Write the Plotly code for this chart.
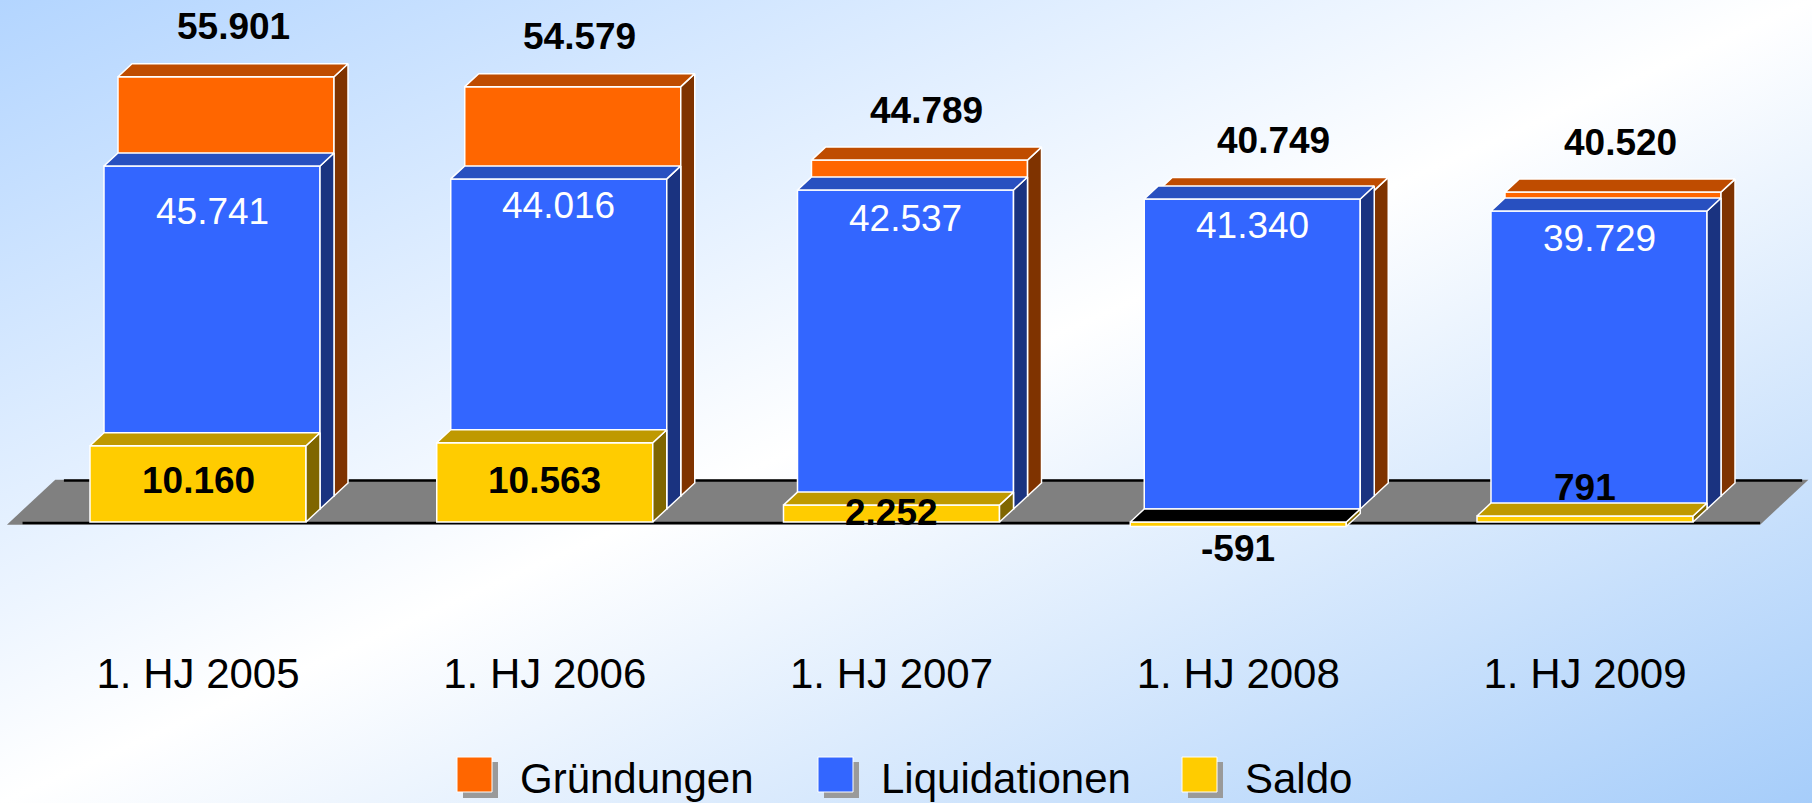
import base64
import plotly.graph_objects as go

# ---------------- data ----------------
categories = ["1. HJ 2005", "1. HJ 2006", "1. HJ 2007", "1. HJ 2008", "1. HJ 2009"]
gruendungen = [55901, 54579, 44789, 40749, 40520]
liquidationen = [45741, 44016, 42537, 41340, 39729]
saldo = [10160, 10563, 2252, -591, 791]
series_names = ["Gründungen", "Liquidationen", "Saldo"]

# ---------------- geometry / style ----------------
W, H = 1812, 803
PLOT_BOTTOM = 645          # px, bottom of plotting area
ZERO_PX = 522              # px of value 0 (front row)
CAT0_PX = 198              # px of first category centre
PX_PER_CAT = 346.75
PX_PER_VAL = 0.0075
BAR_W = 0.623              # bar width in category units
DX = 14 / PX_PER_CAT       # depth step (x units)
DY = 13 / PX_PER_VAL       # depth step (value units)
FLOOR_DEPTH = 3.45
FONT = "Arial, Liberation Sans, sans-serif"

x_range = [(0 - CAT0_PX) / PX_PER_CAT, (W - CAT0_PX) / PX_PER_CAT]
y_range = [(ZERO_PX - PLOT_BOTTOM) / PX_PER_VAL, ZERO_PX / PX_PER_VAL]

series = [  # back to front
    dict(name=series_names[0], values=gruendungen, depth=2, axis=2,
         front="#FF6600", top="#BF4C00", side="#7F3300"),
    dict(name=series_names[1], values=liquidationen, depth=1, axis=3,
         front="#3366FF", top="#2850C0", side="#1A3380"),
    dict(name=series_names[2], values=saldo, depth=0, axis=4,
         front="#FFCC00", top="#BF9900", side="#7F6600"),
]

fmt = lambda v: f"{v:,}".replace(",", ".")
EDGE = dict(color="white", width=1.5)

fig = go.Figure()

# ---- floor (main subplot) ----
fx0, fx1 = -0.551, 4.505
fdx, fdy = FLOOR_DEPTH * DX, FLOOR_DEPTH * DY
fy = -350
fig.add_trace(go.Scatter(
    x=[fx0, fx1, fx1 + fdx, fx0 + fdx, fx0],
    y=[fy, fy, fy + fdy, fy + fdy, fy],
    fill="toself", fillcolor="#808080", mode="lines",
    line=dict(width=0, color="#808080"), hoverinfo="skip", showlegend=False))
fig.add_trace(go.Scatter(
    x=[fx0 + 0.045, fx1], y=[-120, -120], mode="lines",
    line=dict(color="black", width=2.5), hoverinfo="skip", showlegend=False))
fig.add_trace(go.Scatter(
    x=[fx0 + fdx + 0.025, fx1 + fdx - 0.018], y=[fy + fdy - 80, fy + fdy - 80], mode="lines",
    line=dict(color="black", width=2.5), hoverinfo="skip", showlegend=False))

# ---- 3D bars ----
for s in series:
    k = s["depth"]
    xa, ya = f"x{s['axis']}", f"y{s['axis']}"
    n = len(s["values"])
    fig.add_trace(go.Bar(
        x=list(range(n)), y=s["values"], base=[k * DY] * n,
        width=BAR_W, offset=-BAR_W / 2 + k * DX,
        marker=dict(color=s["front"], line=EDGE),
        name=s["name"], xaxis=xa, yaxis=ya, showlegend=False, hoverinfo="skip"))
    for i, v in enumerate(s["values"]):
        xl = i - BAR_W / 2 + k * DX
        xr = xl + BAR_W
        t = k * DY + max(v, 0)
        b = k * DY + min(v, 0)
        # side face
        fig.add_trace(go.Scatter(
            x=[xr, xr + DX, xr + DX, xr, xr], y=[b, b + DY, t + DY, t, b],
            fill="toself", fillcolor=s["side"], mode="lines", line=EDGE,
            xaxis=xa, yaxis=ya, hoverinfo="skip", showlegend=False))
        # top face
        fig.add_trace(go.Scatter(
            x=[xl, xr, xr + DX, xl + DX, xl], y=[t, t, t + DY, t + DY, t],
            fill="toself", fillcolor=(s["top"] if v >= 0 else "black"),
            mode="lines", line=EDGE,
            xaxis=xa, yaxis=ya, hoverinfo="skip", showlegend=False))

# ---- value labels ----
ann = []
for i, v in enumerate(gruendungen):
    ann.append(dict(x=i + 2.5 * DX, y=v + 3 * DY, xref="x", yref="y", text=fmt(v),
                    showarrow=False, yshift=37,
                    font=dict(family=FONT, size=37, color="black", weight="bold")))
liq_shift = [-46, -27, -29, -27, -27]
for i, v in enumerate(liquidationen):
    ann.append(dict(x=i + DX, y=v + DY, xref="x", yref="y", text=fmt(v),
                    showarrow=False, yshift=liq_shift[i],
                    font=dict(family=FONT, size=37, color="white")))
sal_shift = [3, 2, 1, -24, 32]
for i, v in enumerate(saldo):
    ann.append(dict(x=i, y=v / 2, xref="x", yref="y", text=fmt(v),
                    showarrow=False, yshift=sal_shift[i],
                    font=dict(family=FONT, size=37, color="black", weight="bold")))

# ---- manual legend ----
def px_x(p):
    return p / W

def px_y(p):
    return (PLOT_BOTTOM - p) / PLOT_BOTTOM

shapes = []
leg_x = [457, 818, 1182]
leg_colors = [s["front"] for s in series]
for lx, name, col in zip(leg_x, series_names, leg_colors):
    shapes.append(dict(type="rect", xref="paper", yref="paper",
                       x0=px_x(lx + 6), x1=px_x(lx + 41), y0=px_y(762), y1=px_y(798),
                       fillcolor="#9a9a9a", line=dict(width=0), layer="above"))
    shapes.append(dict(type="rect", xref="paper", yref="paper",
                       x0=px_x(lx), x1=px_x(lx + 35), y0=px_y(757), y1=px_y(792),
                       fillcolor=col, line=dict(color="white", width=1), layer="above"))
    ann.append(dict(x=px_x(lx + 61), y=px_y(778), xref="paper", yref="paper",
                    text=name, showarrow=False, xanchor="left", yanchor="middle",
                    font=dict(family=FONT, size=42, color="black")))

# ---- background gradient ----
svg = (f'<svg xmlns="http://www.w3.org/2000/svg" width="{W}" height="{H}" '
       f'viewBox="0 0 {W} {H}" preserveAspectRatio="none"><defs>'
       '<linearGradient id="g" x1="0" y1="0" x2="1" y2="1">'
       '<stop offset="0" stop-color="#b3d5ff"/>'
       '<stop offset="0.5" stop-color="#ffffff"/>'
       '<stop offset="1" stop-color="#a6cdfa"/>'
       '</linearGradient></defs>'
       f'<rect width="{W}" height="{H}" fill="url(#g)"/></svg>')
bg_src = "data:image/svg+xml;base64," + base64.b64encode(svg.encode()).decode()

hidden = dict(visible=False, showgrid=False, zeroline=False, fixedrange=True)
layout = dict(
    width=W, height=H, autosize=False,
    margin=dict(l=0, r=0, t=0, b=H - PLOT_BOTTOM, pad=0),
    paper_bgcolor="white", plot_bgcolor="rgba(0,0,0,0)",
    showlegend=False, barmode="overlay",
    xaxis=dict(range=x_range, tickvals=list(range(len(categories))), ticktext=categories,
               showgrid=False, zeroline=False, showline=False, ticks="",
               tickfont=dict(family=FONT, size=42, color="black"), fixedrange=True),
    yaxis=dict(range=y_range, **hidden),
    annotations=ann, shapes=shapes,
    images=[dict(source=bg_src, xref="paper", yref="paper", x=0, y=1,
                 sizex=1, sizey=H / PLOT_BOTTOM, sizing="stretch",
                 xanchor="left", yanchor="top", layer="below")],
)
for a in (2, 3, 4):
    layout[f"xaxis{a}"] = dict(range=x_range, overlaying="x", anchor=f"y{a}", **hidden)
    layout[f"yaxis{a}"] = dict(range=y_range, overlaying="y", anchor=f"x{a}", **hidden)
fig.update_layout(**layout)

fig.write_html("out.html", include_plotlyjs=True,
               config=dict(displayModeBar=False, staticPlot=True),
               post_script="document.body.style.margin='0';document.body.style.overflow='hidden';")
